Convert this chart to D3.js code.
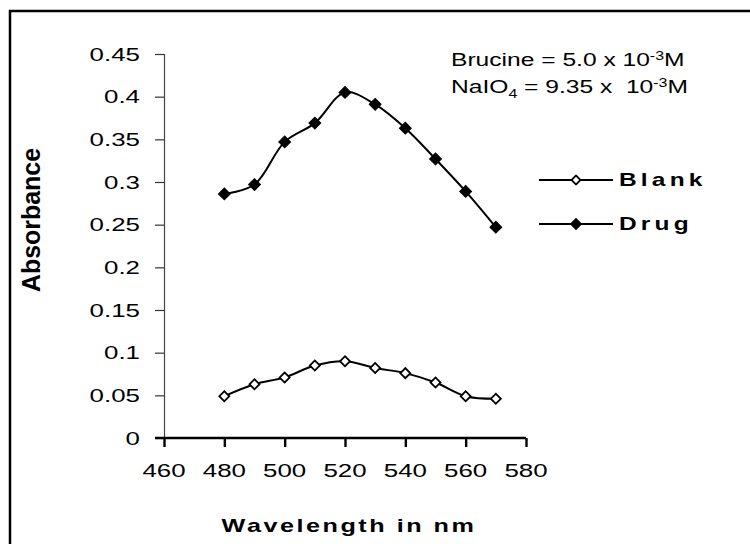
<!DOCTYPE html>
<html>
<head>
<meta charset="utf-8">
<script src="https://cdn.jsdelivr.net/npm/d3@7"></script>
<style>
  html, body { margin: 0; padding: 0; background: #fff; }
  svg { display: block; }
  text { font-family: "Liberation Sans", Arial, sans-serif; fill: #000; }
</style>
</head>
<body>
<svg id="chart" width="750" height="544"></svg>
<script>
// ---- data ----
const wavelengths = [480, 490, 500, 510, 520, 530, 540, 550, 560, 570];
const blankValues = [0.049, 0.063, 0.071, 0.085, 0.090, 0.082, 0.076, 0.065, 0.049, 0.046];
const drugValues  = [0.286, 0.297, 0.347, 0.369, 0.405, 0.391, 0.363, 0.327, 0.289, 0.247];
const xTicks = [460, 480, 500, 520, 540, 560, 580];
const yTicks = [0, 0.05, 0.1, 0.15, 0.2, 0.25, 0.3, 0.35, 0.4, 0.45];
const yTickLabels = ["0", "0.05", "0.1", "0.15", "0.2", "0.25", "0.3", "0.35", "0.4", "0.45"];
const seriesNames = ["Blank", "Drug"];

const svg = d3.select("#chart");
const SX = 1.4; // horizontal stretch of text seen in the reference

// frame
svg.append("rect").attr("x", 10).attr("y", 11).attr("width", 800).attr("height", 600)
  .attr("fill", "none").attr("stroke", "#000").attr("stroke-width", 2.5);

const x = d3.scaleLinear().domain([460, 580]).range([164, 526]);
const y = d3.scaleLinear().domain([0, 0.45]).range([438, 54]);

function stretchedText(g, tx, ty, str, anchor) {
  return g.append("text")
    .attr("transform", `translate(${tx},${ty}) scale(${SX},1)`)
    .attr("text-anchor", anchor || "start")
    .text(str);
}

// y axis
const yAxis = svg.append("g").attr("transform", "translate(164,0)")
  .call(d3.axisLeft(y).tickValues(yTicks).tickSize(9).tickFormat(""));
yAxis.select(".domain").attr("stroke", "#444").attr("stroke-width", 1.2);
yAxis.selectAll(".tick line").attr("stroke", "#333").attr("stroke-width", 1.2);
const yLab = svg.append("g").style("font-size", "18.5px");
yTicks.forEach((v, i) => {
  stretchedText(yLab, 140, y(v) + 6.5, yTickLabels[i], "end");
});

// x axis
const xAxis = svg.append("g").attr("transform", "translate(0,438)")
  .call(d3.axisBottom(x).tickValues(xTicks).tickSize(9).tickSizeOuter(0).tickFormat(""));
xAxis.select(".domain").attr("stroke", "#000").attr("stroke-width", 2.6)
  .attr("d", `M155,0H${x(580)}`);
xAxis.selectAll(".tick line").attr("stroke", "#000").attr("stroke-width", 2.4);
const xLab = svg.append("g").style("font-size", "18.5px");
xTicks.forEach(v => {
  stretchedText(xLab, x(v), 477, String(v), "middle");
});

// axis titles
svg.append("text")
  .attr("transform", `translate(349,532) scale(${SX},1)`)
  .attr("text-anchor", "middle")
  .style("font-size", "18px").style("font-weight", "bold").style("letter-spacing", "1.8px")
  .text("Wavelength in nm");

svg.append("text")
  .attr("transform", "translate(40,220) rotate(-90) scale(1,1.4)")
  .attr("text-anchor", "middle")
  .attr("textLength", 144).attr("lengthAdjust", "spacingAndGlyphs")
  .style("font-size", "18px").style("font-weight", "bold")
  .text("Absorbance");

// lines
const line = d3.line().x((d, i) => x(wavelengths[i])).y(d => y(d))
  .curve(d3.curveCatmullRom.alpha(0.5));
const diamond = d3.symbol().type(d3.symbolSquare);

function drawSeries(vals, filled, size) {
  svg.append("path").attr("d", line(vals)).attr("fill", "none")
    .attr("stroke", "#000").attr("stroke-width", 2);
  svg.append("g").selectAll("path").data(vals).join("path")
    .attr("transform", (d, i) => `translate(${x(wavelengths[i])},${y(d)}) rotate(45)`)
    .attr("d", diamond.size(size))
    .attr("fill", filled ? "#000" : "#fff")
    .attr("stroke", "#000").attr("stroke-width", filled ? 1 : 1.8);
}
drawSeries(blankValues, false, 50);
drawSeries(drugValues, true, 70);

// legend
const legY = [180, 224];
seriesNames.forEach((name, i) => {
  const g = svg.append("g");
  g.append("line").attr("x1", 539).attr("x2", 613).attr("y1", legY[i]).attr("y2", legY[i])
    .attr("stroke", "#000").attr("stroke-width", 2);
  g.append("path").attr("transform", `translate(576,${legY[i]}) rotate(45)`)
    .attr("d", diamond.size(i === 0 ? 40 : 60))
    .attr("fill", i === 0 ? "#fff" : "#000").attr("stroke", "#000")
    .attr("stroke-width", i === 0 ? 1.8 : 1);
  g.append("text")
    .attr("transform", `translate(619,${legY[i] + 6}) scale(${SX},1)`)
    .style("font-size", "17.5px").style("font-weight", "bold").style("letter-spacing", "3px")
    .text(name);
});

// annotation
const ann = svg.append("g").style("font-size", "18.5px");
const t1 = ann.append("text").attr("transform", `translate(451,66) scale(1.33,1)`);
t1.append("tspan").text("Brucine = 5.0 x 10");
t1.append("tspan").attr("dy", -6).style("font-size", "12px").text("-3");
t1.append("tspan").attr("dy", 6).text("M");
const t2 = ann.append("text").attr("transform", `translate(451,93) scale(1.33,1)`);
t2.append("tspan").text("NaIO");
t2.append("tspan").attr("dy", 5).style("font-size", "12px").text("4");
t2.append("tspan").attr("dy", -5).text(" = 9.35 x\u00a0 10");
t2.append("tspan").attr("dy", -6).style("font-size", "12px").text("-3");
t2.append("tspan").attr("dy", 6).text("M");
</script>
</body>
</html>
